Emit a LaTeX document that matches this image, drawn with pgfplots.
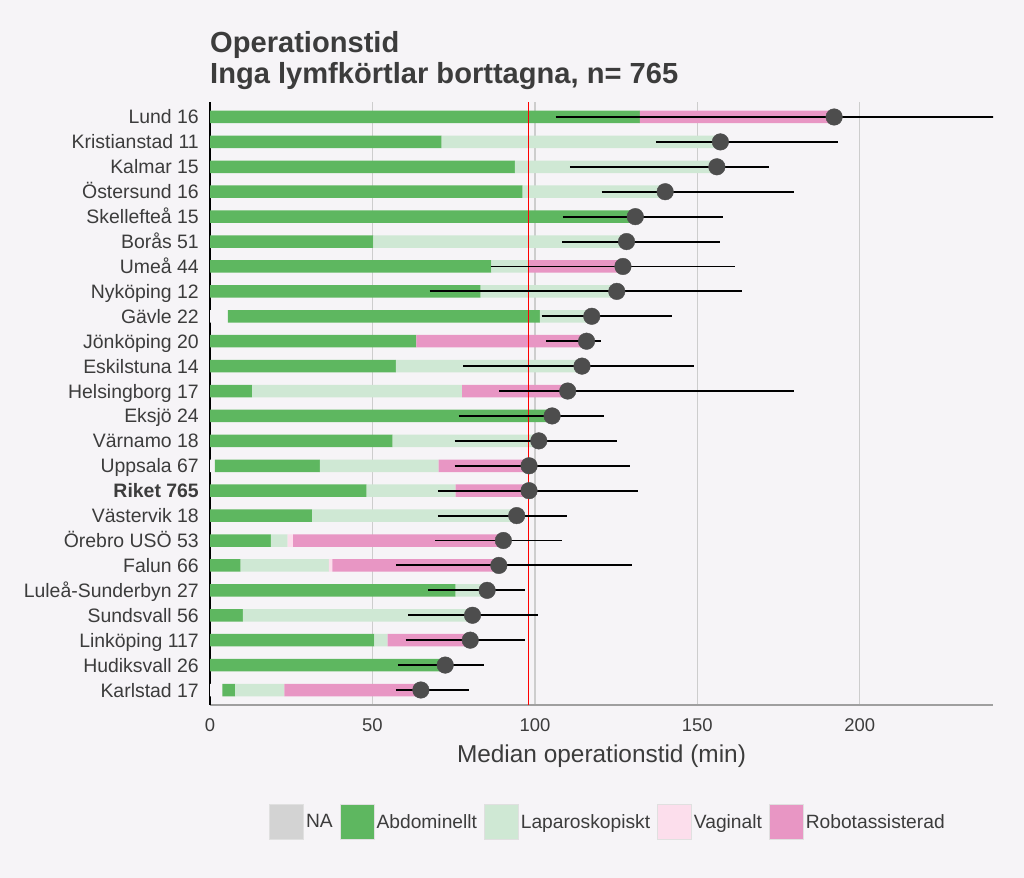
\documentclass[border=0pt]{standalone}
\usepackage{fontspec}
\setmainfont{Liberation Sans}
\usepackage{pgfplots}
\usepackage{pgfplotstable}
\pgfplotsset{compat=1.18}
\definecolor{bg}{RGB}{246,244,247}
\definecolor{abd}{RGB}{94,183,96}
\definecolor{lap}{RGB}{207,232,212}
\definecolor{vag}{RGB}{252,222,236}
\definecolor{rob}{RGB}{232,150,196}
\definecolor{nagray}{RGB}{211,211,211}
\definecolor{dotc}{RGB}{77,77,77}
\definecolor{txt}{RGB}{60,60,60}
\definecolor{gridc}{RGB}{205,205,205}

\pgfplotstableread{
idx na abd lap vag rob med
0 3.8 3.9 15.2 0 42.0 64.9
1 0 72.4 0 0 0 72.4
2 0 50.6 4.1 0 25.4 80.1
3 0 10.1 70.7 0 0 80.8
4 0 75.6 9.7 0 0 85.3
5 0 9.4 27.2 1.1 51.2 88.9
6 0 18.7 5.2 1.7 64.7 90.3
7 0 31.4 63.0 0 0 94.4
8 0 48.2 27.4 0 22.6 98.2
9 1.5 32.3 36.6 0 27.8 98.2
10 0 56.2 45.0 0 0 101.2
11 0 105.3 0 0 0 105.3
12 0 13.0 64.6 0 32.5 110.1
13 0 57.2 57.3 0 0 114.5
14 0 63.5 0 0 52.4 115.9
15 5.5 96.0 16.0 0 0 117.5
16 0 83.3 41.9 0 0 125.2
17 0 86.6 11.6 0 28.9 127.1
18 0 50.3 77.9 0 0 128.2
19 0 130.9 0 0 0 130.9
20 0 96.2 43.9 0 0 140.1
21 0 93.8 62.2 0 0 156.0
22 0 71.3 85.8 0 0 157.1
23 0 132.3 0 0 59.8 192.1
}\data

\pgfplotsset{
  keystyle/.style={legend image code/.code={\filldraw[##1, draw=black!12, line width=0.8bp] (0bp,-17.5bp) rectangle (34bp,17.5bp);}},
}

\begin{document}
\begin{tikzpicture}
\fill[bg] (0,0) rectangle (1024bp,878bp);
\useasboundingbox (0,0) rectangle (1024bp,878bp);
\begin{axis}[
  at={(210bp,173bp)}, anchor=south west,
  scale only axis, width=783bp, height=603bp,
  xmin=0, xmax=241, ymin=-0.602, ymax=23.602,
  xbar stacked, bar width=12.5bp,
  reverse stacked plots=false,
  axis lines*=left, axis line style={-},
  x axis line style={draw=gray!75, line width=1.2bp},
  y axis line style={draw=black, line width=1.8bp},
  xmajorgrids, major grid style={draw=gridc, line width=1.3bp},
  xtick={0,50,100,150,200},
  ytick={0,...,23},
  yticklabels={Karlstad 17, Hudiksvall 26, Linköping 117, Sundsvall 56, Luleå-Sunderbyn 27, Falun 66, Örebro USÖ 53, Västervik 18, \textbf{Riket 765}, Uppsala 67, Värnamo 18, Eksjö 24, Helsingborg 17, Eskilstuna 14, Jönköping 20, Gävle 22, Nyköping 12, Umeå 44, Borås 51, Skellefteå 15, Östersund 16, Kalmar 15, Kristianstad 11, Lund 16},
  major tick length=0pt,
  /pgf/number format/assume math mode=true,
  ticklabel style={font=\fontsize{18.5}{21}\selectfont, text=txt},
  xticklabel style={anchor=base, inner sep=0pt, yshift=-27bp},
  yticklabel style={font=\fontsize{19.5}{22}\selectfont, anchor=base east, inner sep=0pt, xshift=-11bp, yshift=-7bp},
  title={Operationstid\\Inga lymfkörtlar borttagna, n= 765},
  title style={at={(0,1)}, anchor=south west, align=left, inner sep=0pt, yshift=6bp, font=\bfseries\fontsize{29.2}{31}\selectfont, text=txt},
  xlabel={Median operationstid (min)},
  xlabel style={at={(axis description cs:0.5,0)}, anchor=base, inner sep=0pt, yshift=-57bp, font=\fontsize{24.5}{27}\selectfont, text=txt},
  legend columns=5,
  legend cell align=left,
  legend style={at={(0.5083,-0.194)}, anchor=center, draw=none, fill=none, font=\fontsize{19.3}{22}\selectfont, text=txt, /tikz/every even column/.append style={column sep=5bp}},
]
\addplot[fill=bg, draw=none, legend image code/.code={\filldraw[fill=nagray, draw=black!12, line width=0.8bp] (0bp,-17.5bp) rectangle (34bp,17.5bp);}] table[x=na, y=idx]{\data};
\addlegendentry{NA}
\addplot[fill=abd, draw=none, keystyle] table[x=abd, y=idx]{\data};
\addlegendentry{Abdominellt}
\addplot[fill=lap, draw=none, keystyle] table[x=lap, y=idx]{\data};
\addlegendentry{Laparoskopiskt}
\addplot[fill=vag, draw=none, keystyle] table[x=vag, y=idx]{\data};
\addlegendentry{Vaginalt}
\addplot[fill=rob, draw=none, keystyle] table[x=rob, y=idx]{\data};
\addlegendentry{Robotassisterad}

\addplot[forget plot, stack plots=false, sharp plot, draw=red, line width=1.5bp, mark=none] coordinates {(98,-0.602) (98,23.602)};

% confidence intervals (lo, hi) per row
\addplot[forget plot, stack plots=false, sharp plot, draw=black, line width=1.9bp, mark=none, unbounded coords=jump] coordinates {
(106.4,23) (245,23) (nan,nan)
(137.2,22) (193.2,22) (nan,nan)
(110.8,21) (172.0,21) (nan,nan)
(120.5,20) (179.9,20) (nan,nan)
(108.6,19) (158.0,19) (nan,nan)
(108.4,18) (157.1,18) (nan,nan)
(86.6,17) (161.7,17) (nan,nan)
(67.6,16) (163.6,16) (nan,nan)
(102.1,15) (142.3,15) (nan,nan)
(103.4,14) (120.2,14) (nan,nan)
(77.9,13) (148.9,13) (nan,nan)
(89.1,12) (179.9,12) (nan,nan)
(76.5,11) (121.4,11) (nan,nan)
(75.3,10) (125.2,10) (nan,nan)
(75.3,9) (129.3,9) (nan,nan)
(70.1,8) (131.7,8) (nan,nan)
(70.1,7) (109.8,7) (nan,nan)
(69.3,6) (108.2,6) (nan,nan)
(57.2,5) (129.9,5) (nan,nan)
(67.2,4) (97.1,4) (nan,nan)
(61.0,3) (100.9,3) (nan,nan)
(60.2,2) (97.1,2) (nan,nan)
(57.8,1) (84.2,1) (nan,nan)
(57.2,0) (79.8,0)
};

\addplot[forget plot, stack plots=false, only marks, mark=*, mark size=8.3bp, mark options={fill=dotc, draw=dotc}] table[x=med, y=idx]{\data};
\end{axis}
\end{tikzpicture}
\end{document}
